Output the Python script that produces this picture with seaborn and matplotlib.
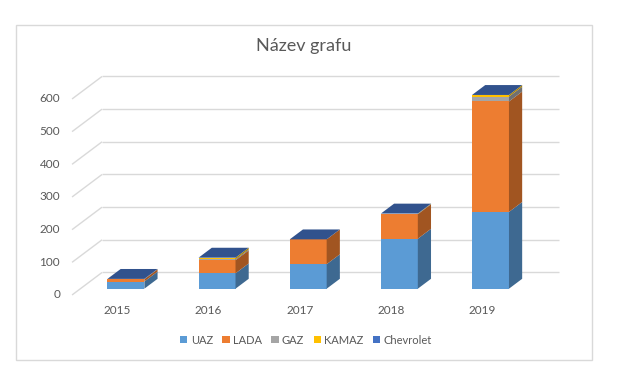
import numpy as np
import pandas as pd
import matplotlib
matplotlib.use("Agg")
import matplotlib.pyplot as plt
from matplotlib.patches import Patch, Rectangle
import matplotlib.colors as mcolors
import seaborn as sns

# ----------------------------------------------------------
# DATA
# ----------------------------------------------------------

years = ["2015", "2016", "2017", "2018", "2019"]
series_names = ["UAZ", "LADA", "GAZ", "KAMAZ", "Chevrolet"]
uaz = [22, 47, 75, 153, 235]
lada = [7, 40, 76, 75, 338]
gaz = [1, 3, 0, 1, 15]
kamaz = [0, 5, 0, 1, 5]
chevrolet = [0, 0, 0, 0, 0]
y_ticks = [0, 100, 200, 300, 400, 500, 600]
title = "Název grafu"

colors = ["#5B9BD5", "#ED7D31", "#A5A5A5", "#FFC000", "#4472C4"]

# ----------------------------------------------------------
# SETUP
# ----------------------------------------------------------

sns.set_theme(style="white")
plt.rcParams["font.family"] = ["Lato", "DejaVu Sans"]

fig = plt.figure(figsize=(6.41, 3.75), dpi=100)
ax = fig.add_axes([60 / 641, 75 / 375, 510 / 641, 240 / 375])

# oblique "3d" projection: depth unit = full floor depth
KX = 0.329       # category units per floor depth
KV = 68.9        # value units per floor depth
D_FRONT = -0.28  # floor front edge
D_BACK = 0.72    # back wall
D_BAR = 0.44     # bar depth
BAR_W = 0.405


def shade(c, f):
    r, g, b = mcolors.to_rgb(c)
    return (r * f, g * f, b * f)


# ----------------------------------------------------------
# GRID (side wall + back wall)
# ----------------------------------------------------------

x_wall = -0.262
x_wall_right = 4.747
grid_col = "#D9D9D9"
for t in y_ticks:
    xf, vf = x_wall + (D_FRONT - D_BACK) * KX, t + D_FRONT * KV
    xb, vb = x_wall, t + D_BACK * KV
    ax.plot([xf, xb], [vf, vb], color=grid_col, lw=1.0, zorder=0,
            solid_capstyle="butt")
    ax.plot([xb, x_wall_right], [vb, vb], color=grid_col, lw=1.0, zorder=0,
            solid_capstyle="butt")
    ax.text(xf - 0.13, vf, str(t), ha="right", va="center",
            fontsize=8.5, color="#595959")

# ----------------------------------------------------------
# BARS (front faces with seaborn, side/top faces as polygons)
# ----------------------------------------------------------

all_series = [uaz, lada, gaz, kamaz, chevrolet]
bottom = np.zeros(len(years))
bx = D_BAR * KX
bv = D_BAR * KV
for name, vals, col in zip(series_names, all_series, colors):
    vals = np.array(vals, dtype=float)
    df = pd.DataFrame({"year": years, "value": vals})
    n_before = len(ax.patches)
    sns.barplot(data=df, x="year", y="value", color=col, saturation=1,
                width=BAR_W, bottom=bottom, errorbar=None, linewidth=0,
                ax=ax, zorder=3)
    for p, b, v in zip(ax.patches[n_before:], bottom, vals):
        xr = p.get_x() + p.get_width()
        side = [(xr, b), (xr, b + v), (xr + bx, b + v + bv), (xr + bx, b + bv)]
        ax.fill(*zip(*side), color=shade(col, 0.68), lw=0, zorder=3)
    bottom = bottom + vals

# top caps in the colour of the last series
for i, top in enumerate(bottom):
    xl = i - BAR_W / 2
    xr = i + BAR_W / 2
    cap = [(xl, top), (xr, top), (xr + bx, top + bv), (xl + bx, top + bv)]
    ax.fill(*zip(*cap), color=shade(colors[-1], 0.72), lw=0, zorder=4)

# category labels at the floor front edge
for i, yr in enumerate(years):
    ax.text(i + D_FRONT * KX, -67, yr, ha="center", va="center",
            fontsize=8.5, color="#595959")

ax.set_xlim(-0.723, 4.872)
ax.set_ylim(-34.6, 700)
ax.set_xlabel("")
ax.set_ylabel("")
ax.set_xticks([])
ax.set_yticks([])
for s in ax.spines.values():
    s.set_visible(False)
ax.set_facecolor("none")
for art in ax.texts:
    art.set_clip_on(False)

# ----------------------------------------------------------
# TITLE, LEGEND, BORDER
# ----------------------------------------------------------

fig.text(304 / 641, 1 - 46.5 / 375, title, ha="center", va="center",
         fontsize=13, color="#595959")

handles = [Patch(facecolor=c, edgecolor="none", label=n)
           for n, c in zip(series_names, colors)]
fig.legend(handles=handles, loc="center", bbox_to_anchor=(306 / 641, 1 - 340 / 375),
           ncol=5, frameon=False, fontsize=8, handlelength=0.65,
           handleheight=0.65, handletextpad=0.3, columnspacing=0.85,
           labelcolor="#595959")

fig.patches.append(Rectangle((15.5 / 641, 1 - 360 / 375), 576.5 / 641, 335.5 / 375,
                             transform=fig.transFigure, fill=False,
                             edgecolor="#D9D9D9", lw=1.0))

fig.savefig("out.png", dpi=100, facecolor="white")
